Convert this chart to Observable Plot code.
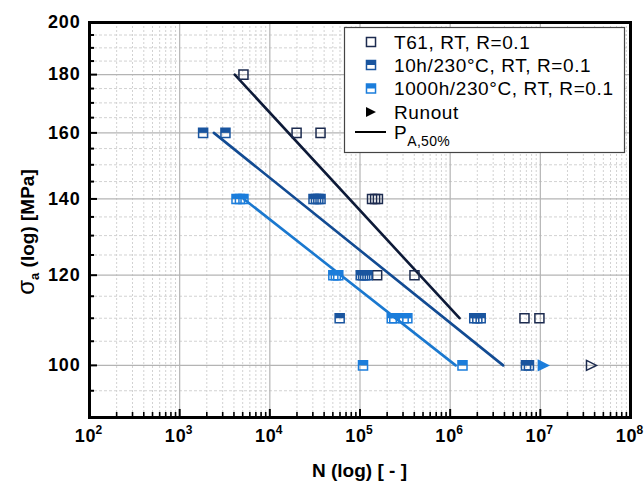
<!DOCTYPE html>
<html><head><meta charset="utf-8">
<script src="https://cdn.jsdelivr.net/npm/d3@7"></script>
<script src="https://cdn.jsdelivr.net/npm/@observablehq/plot@0.6"></script>
<style>
body{margin:0;background:#fff;}
#chart{width:644px;height:486px;}
</style></head><body><div id="chart"></div>
<script>
// ---------- data ----------
const t61N = [5100, 19800, 36500, 136000, 147000, 158000, 155000, 402000, 6670000, 9770000];
const t61S = [180, 160, 160, 140, 140, 140, 120, 120, 110, 110];
const h10N = [1820, 3220, 30500, 32500, 34500, 36500, 102000, 108000, 114000, 121000, 59500, 1850000, 2000000, 2180000, 6930000, 7480000];
const h10S = [160, 160, 140, 140, 140, 140, 120, 120, 120, 120, 110, 110, 110, 110, 100, 100];
const h1000N = [4270, 4660, 5100, 50600, 54000, 57400, 225000, 240000, 305000, 335000, 108000, 1370000];
const h1000S = [140, 140, 140, 120, 120, 120, 110, 110, 110, 110, 100, 100];
const runoutT61N = [36900000];
const runoutT61S = [100];
const runout1000N = [10800000];
const runout1000S = [100];
// P_A,50% lines (end points)
const lineT61N = [4080, 1270000];
const lineT61S = [180, 110];
const line10N = [2395, 3870000];
const line10S = [160, 100];
const line1000N = [5140, 1150000];
const line1000S = [140, 100];
// ticks
const xDecades = [1e2, 1e3, 1e4, 1e5, 1e6, 1e7, 1e8];
const yMajor = [100, 120, 140, 160, 180, 200];
const yMinor = [90, 95, 105, 110, 115, 125, 130, 135, 145, 150, 155, 165, 170, 175, 185, 190, 195];
const legendLabels = ["T61, RT, R=0.1", "10h/230°C, RT, R=0.1", "1000h/230°C, RT, R=0.1", "Runout"];

// ---------- styles ----------
const cT61 = "#1c2b4f", cT61line = "#0d1a38";
const c10 = "#1a559f", c10line = "#124b93";
const c1000 = "#1b7ddb", c1000line = "#1a78cf";
const W = 644, H = 486, mL = 89, mR = 14, mT = 22, mB = 69;
const innerW = W - mL - mR, innerH = H - mT - mB;
const R = 5.1;

const xMinor = [];
for (const d of xDecades.slice(0, -1)) for (let k = 2; k <= 9; k++) xMinor.push(k * d);

const pts = (N, S) => N.map((n, i) => ({n, s: S[i]}));
const halfTop = {draw(ctx, size) { const w = Math.sqrt(size); ctx.rect(-w/2, -w/2, w, w*0.5); }};
const triRight = {draw(ctx, size) { const w = Math.sqrt(size) * 1.1; ctx.moveTo(-w/2, -w/2); ctx.lineTo(w/2, 0); ctx.lineTo(-w/2, w/2); ctx.closePath(); }};

const font = "Liberation Sans, Arial, sans-serif";

const svg = Plot.plot({
  width: W, height: H,
  marginLeft: mL, marginRight: mR, marginTop: mT, marginBottom: mB,
  style: {fontFamily: font, background: "white", overflow: "visible"},
  x: {type: "log", domain: [1e2, 1e8], axis: null},
  y: {type: "log", domain: [90, 200], axis: null},
  marks: [
    Plot.ruleX(xMinor, {stroke: "#d2d2d2", strokeDasharray: "2,2", strokeWidth: 1}),
    Plot.ruleY(yMinor, {stroke: "#d2d2d2", strokeDasharray: "3,2", strokeWidth: 1}),
    Plot.ruleX(xDecades, {stroke: "#b4b4b4", strokeWidth: 1.2}),
    Plot.ruleY(yMajor, {stroke: "#b4b4b4", strokeWidth: 1.2}),
    // inward ticks
    Plot.ruleX(xMinor, {stroke: "black", strokeWidth: 1.6, insetTop: innerH - 5}),
    Plot.ruleX(xDecades, {stroke: "black", strokeWidth: 2, insetTop: innerH - 8}),
    Plot.ruleY(yMinor, {stroke: "black", strokeWidth: 2, insetRight: innerW - 5}),
    Plot.ruleY(yMajor, {stroke: "black", strokeWidth: 2, insetRight: innerW - 8}),
    // P_A,50% lines
    Plot.line(pts(lineT61N, lineT61S), {x: "n", y: "s", stroke: cT61line, strokeWidth: 2.6}),
    Plot.line(pts(line10N, line10S), {x: "n", y: "s", stroke: c10line, strokeWidth: 2.6}),
    Plot.line(pts(line1000N, line1000S), {x: "n", y: "s", stroke: c1000line, strokeWidth: 2.6}),
    // markers
    Plot.dot(pts(t61N, t61S), {x: "n", y: "s", symbol: "square", r: R, stroke: cT61, fill: "none", strokeWidth: 1.5}),
    Plot.dot(pts(h10N, h10S), {x: "n", y: "s", symbol: "square", r: R, stroke: c10, fill: "none", strokeWidth: 1.5}),
    Plot.dot(pts(h10N, h10S), {x: "n", y: "s", symbol: halfTop, r: R, fill: c10, stroke: "none"}),
    Plot.dot(pts(h1000N, h1000S), {x: "n", y: "s", symbol: "square", r: R, stroke: c1000, fill: "none", strokeWidth: 1.5}),
    Plot.dot(pts(h1000N, h1000S), {x: "n", y: "s", symbol: halfTop, r: R, fill: c1000, stroke: "none"}),
    Plot.dot(pts(runoutT61N, runoutT61S), {x: "n", y: "s", symbol: triRight, r: R, stroke: cT61, fill: "none", strokeWidth: 1.5}),
    Plot.dot(pts(runout1000N, runout1000S), {x: "n", y: "s", symbol: triRight, r: R, stroke: c1000, fill: c1000, strokeWidth: 1.5}),
    Plot.frame({stroke: "black", strokeWidth: 3}),
    // tick labels
    Plot.text(yMajor, {y: d => d, frameAnchor: "left", dx: -9, textAnchor: "end", text: d => String(d), fontWeight: "bold", fontSize: 18, fill: "black"}),
    Plot.text(xDecades, {x: d => d, frameAnchor: "bottom", dy: 24, dx: -4, text: () => "10", fontWeight: "bold", fontSize: 18, fill: "black"}),
    Plot.text(xDecades, {x: d => d, frameAnchor: "bottom", dy: 16, dx: 6, textAnchor: "start", text: d => String(Math.round(Math.log10(d))), fontWeight: "bold", fontSize: 12, fill: "black"})
  ]
});

const s = d3.select(svg);
s.selectAll("text").attr("letter-spacing", "0.8");
// axis titles
s.append("text").attr("x", mL + innerW / 2).attr("y", 477).attr("text-anchor", "middle")
  .attr("font-family", font).attr("font-size", 19).attr("font-weight", "bold").text("N (log) [ - ]");
const yt = s.append("text").attr("transform", "translate(34,232) rotate(-90)").attr("text-anchor", "middle")
  .attr("font-family", font).attr("font-size", 19).attr("font-weight", "bold");
yt.append("tspan").attr("font-size", 24).attr("font-weight", "normal").text("σ");
yt.append("tspan").attr("font-size", 13).attr("dy", 5).text("a");
yt.append("tspan").attr("dy", -5).text(" (log) [MPa]");

// legend
const lg = s.append("g").attr("font-family", font).attr("text-anchor", "start");
lg.append("rect").attr("x", 344.5).attr("y", 27.5).attr("width", 280).attr("height", 125)
  .attr("fill", "white").attr("stroke", "#444").attr("stroke-width", 1.2);
const mx = 371, tx = 394, rows = [42, 65, 88.5, 112, 134];
const sq = d3.symbol(d3.symbolSquare, R * R * Math.PI)();
const ht = d3.symbol(halfTop, R * R * Math.PI)();
const tr = d3.symbol(triRight, R * R * Math.PI)();
lg.append("path").attr("d", sq).attr("transform", `translate(${mx},${rows[0]})`).attr("fill", "none").attr("stroke", cT61).attr("stroke-width", 1.5);
lg.append("path").attr("d", sq).attr("transform", `translate(${mx},${rows[1]})`).attr("fill", "none").attr("stroke", c10).attr("stroke-width", 1.5);
lg.append("path").attr("d", ht).attr("transform", `translate(${mx},${rows[1]})`).attr("fill", c10);
lg.append("path").attr("d", sq).attr("transform", `translate(${mx},${rows[2]})`).attr("fill", "none").attr("stroke", c1000).attr("stroke-width", 1.5);
lg.append("path").attr("d", ht).attr("transform", `translate(${mx},${rows[2]})`).attr("fill", c1000);
lg.append("path").attr("d", tr).attr("transform", `translate(${mx},${rows[3]})`).attr("fill", "black");
lg.append("line").attr("x1", 355).attr("x2", 386).attr("y1", rows[4] - 2).attr("y2", rows[4] - 2).attr("stroke", "black").attr("stroke-width", 2);
legendLabels.forEach((t, i) => {
  lg.append("text").attr("x", tx).attr("y", rows[i]).attr("dy", "0.36em").attr("font-size", 19).attr("letter-spacing", "0.6").text(t);
});
const pt = lg.append("text").attr("x", tx).attr("y", rows[4] - 2).attr("dy", "0.36em").attr("font-size", 19).attr("letter-spacing", "0.6");
pt.append("tspan").text("P");
pt.append("tspan").attr("font-size", 14).attr("dy", 7).attr("letter-spacing", "0.3").text("A,50%");

document.getElementById("chart").appendChild(svg);
</script>
</body></html>
